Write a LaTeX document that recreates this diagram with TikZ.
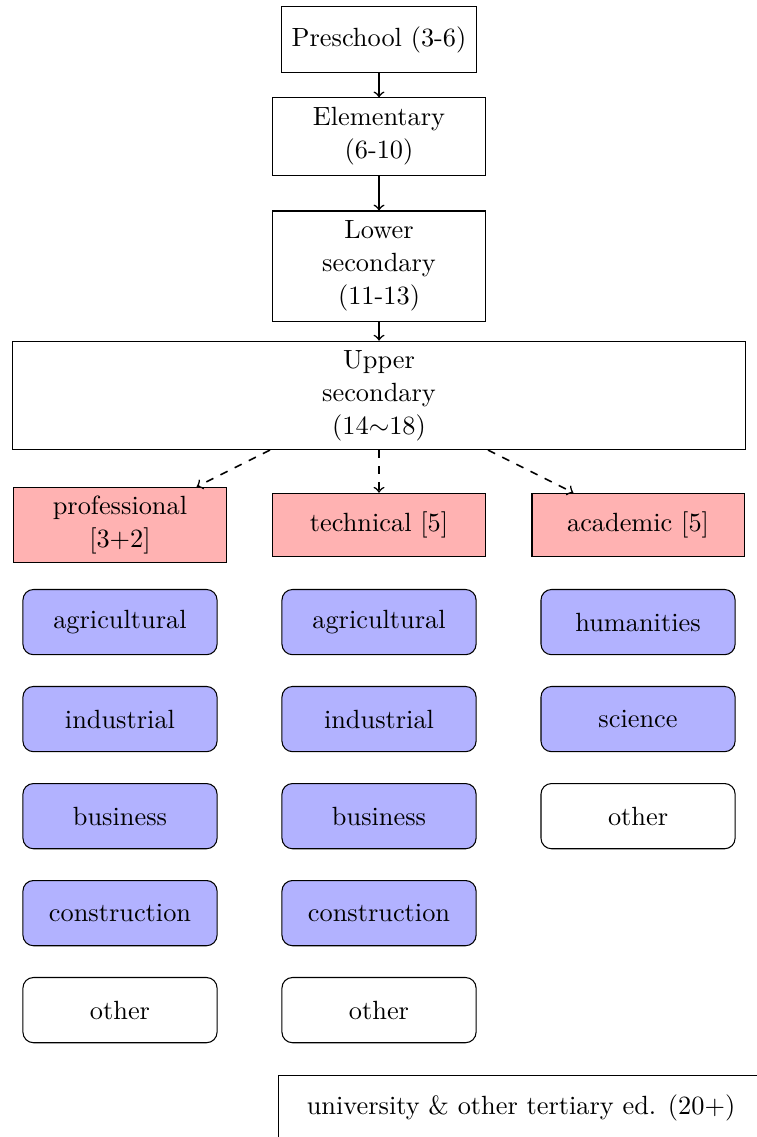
\documentclass[tikz,border=0pt]{standalone}
\usepackage{amsmath}
\usepackage{amssymb}
\usepackage{xcolor}
\usepackage{tikz}
\usetikzlibrary{shapes,arrows,positioning}

\tikzset{
    stage/.style={draw, align=center, minimum width=2.83cm, font=\fontsize{10}{12.5}\selectfont},
    track/.style={draw, fill=red!30, align=center, minimum width=2.83cm, minimum height=0.85cm, font=\fontsize{10}{12.5}\selectfont},
    field/.style={draw, rounded corners, fill=blue!30, minimum width=2.59cm, minimum height=0.87cm},
    otherfield/.style={field, fill=white},
    flow/.style={->, semithick},
    branch/.style={->, semithick, dashed}
}

\begin{document}
\begin{tikzpicture}
        \useasboundingbox (0,0) rectangle (10.10,-15.17);

        % School stages
        \node[stage, minimum width=2.61cm, minimum height=0.87cm] (pre) at (5.057,-0.527) {Preschool (3-6)};
        \node[stage, minimum height=1.03cm] (elem) at (5.057,-1.821) {Elementary\\(6-10)};
        \node[stage, minimum height=1.47cm] (lower) at (5.057,-3.550) {Lower\\secondary\\(11-13)};
        \node[stage, minimum width=9.77cm, minimum height=1.45cm] (upper) at (5.057,-5.277) {Upper\\secondary\\(14$\sim$18)};

        \draw[flow] (pre) -- (elem);
        \draw[flow] (elem) -- (lower);
        \draw[flow] (lower) -- (upper);

        % Tracks
        \node[track, minimum height=1.01cm] (prof) at (1.601,-7.006) {professional\\{}[3+2]};
        \node[track] (tech) at (5.057,-7.006) {technical [5]};
        \node[track] (acad) at (8.513,-7.006) {academic [5]};

        \coordinate (upL) at (3.602,-6.005);
        \coordinate (upR) at (6.512,-6.005);
        \draw[branch] (upL) -- (prof);
        \draw[branch] (upper) -- (tech);
        \draw[branch] (upR) -- (acad);

        % Professional fields
        \node[field] (pagr) at (1.601,-8.300) {agricultural};
        \node[field] (pind) at (1.601,-9.594) {industrial};
        \node[field] (pbus) at (1.601,-10.889) {business};
        \node[field] (pcon) at (1.601,-12.183) {construction};
        \node[otherfield] (poth) at (1.601,-13.477) {other};

        % Technical fields
        \node[field] (tagr) at (5.057,-8.300) {agricultural};
        \node[field] (tind) at (5.057,-9.594) {industrial};
        \node[field] (tbus) at (5.057,-10.889) {business};
        \node[field] (tcon) at (5.057,-12.183) {construction};
        \node[otherfield] (toth) at (5.057,-13.477) {other};

        % Academic fields
        \node[field] (ahum) at (8.513,-8.300) {humanities};
        \node[field] (asci) at (8.513,-9.594) {science};
        \node[otherfield] (aoth) at (8.513,-10.889) {other};

        % Tertiary
        \node[stage, minimum width=6.46cm, minimum height=0.87cm] (univ) at (6.952,-14.785) {university \& other tertiary ed. (20+)};
    \end{tikzpicture}
\end{document}
